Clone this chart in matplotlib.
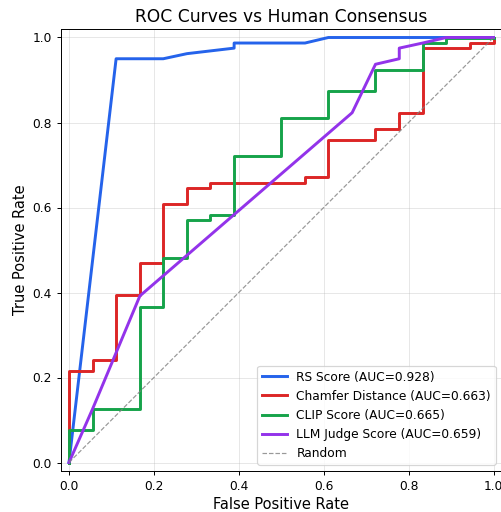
import matplotlib
matplotlib.use("Agg")
import matplotlib.pyplot as plt

# ROC curve points
rs_fpr = [0.0, 0.111, 0.222, 0.278, 0.389, 0.389, 0.556, 0.611, 1.0]
rs_tpr = [0.0, 0.950, 0.950, 0.962, 0.975, 0.987, 0.987, 1.0, 1.0]

chamfer_fpr = [0.0, 0.0, 0.056, 0.056, 0.111, 0.111, 0.167, 0.167, 0.222, 0.222,
               0.278, 0.278, 0.333, 0.333, 0.556, 0.556, 0.611, 0.611, 0.722, 0.722,
               0.778, 0.778, 0.833, 0.833, 0.944, 0.944, 1.0, 1.0]
chamfer_tpr = [0.0, 0.215, 0.215, 0.241, 0.241, 0.393, 0.393, 0.470, 0.470, 0.608,
               0.608, 0.646, 0.646, 0.658, 0.658, 0.671, 0.671, 0.760, 0.760, 0.785,
               0.785, 0.823, 0.823, 0.975, 0.975, 0.987, 0.987, 1.0]

clip_fpr = [0.0, 0.0, 0.056, 0.056, 0.167, 0.167, 0.222, 0.222, 0.278, 0.278,
            0.333, 0.333, 0.389, 0.389, 0.5, 0.5, 0.611, 0.611, 0.722, 0.722,
            0.833, 0.833, 0.889, 0.889, 1.0]
clip_tpr = [0.0, 0.076, 0.076, 0.127, 0.127, 0.367, 0.367, 0.481, 0.481, 0.570,
            0.570, 0.582, 0.582, 0.722, 0.722, 0.810, 0.810, 0.873, 0.873, 0.924,
            0.924, 0.987, 0.987, 1.0, 1.0]

llm_fpr = [0.0, 0.056, 0.167, 0.667, 0.722, 0.778, 0.778, 0.833, 0.889, 1.0]
llm_tpr = [0.0, 0.127, 0.392, 0.823, 0.937, 0.950, 0.975, 0.987, 1.0, 1.0]

labels = ["RS Score (AUC=0.928)", "Chamfer Distance (AUC=0.663)",
          "CLIP Score (AUC=0.665)", "LLM Judge Score (AUC=0.659)"]
colors = ["#2563eb", "#dc2626", "#16a34a", "#9333ea"]

dpi = 88
fig = plt.figure(figsize=(501 / dpi, 512 / dpi), dpi=dpi)
ax = fig.add_axes([60.5 / 501, 41 / 512, 441.5 / 501, 442 / 512])

ax.plot(rs_fpr, rs_tpr, color=colors[0], linewidth=2.4, label=labels[0])
ax.plot(chamfer_fpr, chamfer_tpr, color=colors[1], linewidth=2.4, label=labels[1])
ax.plot(clip_fpr, clip_tpr, color=colors[2], linewidth=2.4, label=labels[2])
ax.plot(llm_fpr, llm_tpr, color=colors[3], linewidth=2.4, label=labels[3])
ax.plot([0, 1], [0, 1], color="gray", linestyle="--", linewidth=1, alpha=0.8, label="Random")

ax.set_xlim(-0.02, 1.02)
ax.set_ylim(-0.02, 1.02)
ax.set_xlabel("False Positive Rate", fontsize=12)
ax.set_ylabel("True Positive Rate", fontsize=12)
ax.set_title("ROC Curves vs Human Consensus", fontsize=14)
ax.grid(True, alpha=0.3)
ax.legend(loc="lower right", fontsize=10)

fig.savefig("out.png", dpi=dpi)
